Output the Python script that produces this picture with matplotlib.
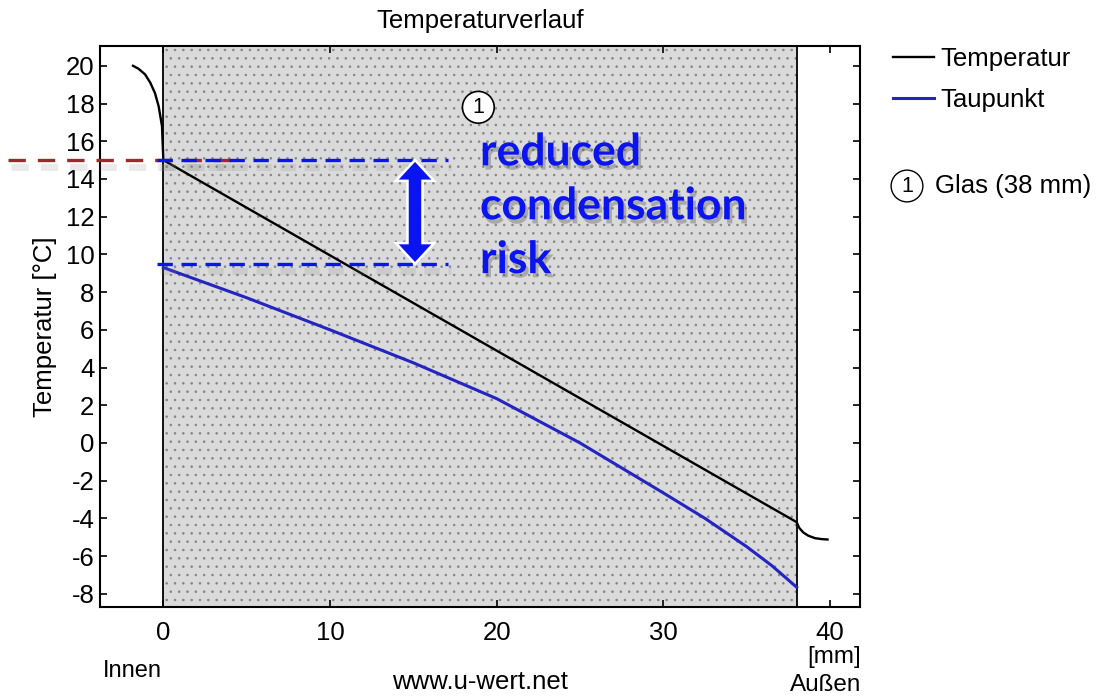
import matplotlib
matplotlib.use("Agg")
import matplotlib.pyplot as plt
import matplotlib.patheffects as pe
from matplotlib.patches import Polygon

# --- data -----------------------------------------------------------------
temp_x = [-1.82, -1.5, -1.1, -0.78, -0.5, -0.28, -0.08, 0.0,
          38.0, 38.15, 38.4, 38.7, 39.1, 39.5, 39.85]
temp_y = [20.0, 19.85, 19.55, 19.1, 18.55, 17.85, 16.8, 15.0,
          -4.2, -4.5, -4.75, -4.92, -5.05, -5.1, -5.12]

dew_x = [0, 5, 10, 15, 20, 25, 30, 32.5, 35, 36.5, 38]
dew_y = [9.3, 7.7, 6.0, 4.25, 2.35, 0.0, -2.65, -4.0, -5.5, -6.5, -7.65]

layer = (0, 38)            # glass pane, mm
layer_name = "Glas (38 mm)"
surface_temp = 15.0        # inner surface temperature
dew_point = 9.5            # dew point at inner surface

xticks = [0, 10, 20, 30, 40]
yticks = list(range(-8, 21, 2))

plt.rcParams["font.family"] = ["Liberation Sans", "DejaVu Sans"]
plt.rcParams["axes.unicode_minus"] = False
plt.rcParams["hatch.linewidth"] = 0.6
FS = 18.5

fig = plt.figure(figsize=(11.19, 6.99), dpi=100)
ax = fig.add_axes([100 / 1119, 1 - 607 / 699, 760 / 1119, 561 / 699])
ax.set_xlim(-3.8, 41.8)
ax.set_ylim(-8.7, 21.05)

# stippled glass layer
ax.axvspan(layer[0], layer[1], facecolor="#dadada", edgecolor="#858585",
           hatch="..", linewidth=0, zorder=0)
ax.axvline(layer[0], color="black", lw=1.3, zorder=2)
ax.axvline(layer[1], color="black", lw=1.3, zorder=2)

l_temp, = ax.plot(temp_x, temp_y, color="black", lw=1.7, label="Temperatur", zorder=3)
l_dew, = ax.plot(dew_x, dew_y, color="#2424c0", lw=2.2, label="Taupunkt", zorder=3)

ax.set_xticks(xticks)
ax.set_yticks(yticks)
ax.tick_params(direction="in", length=5, width=1.2, labelsize=FS,
               top=True, right=True)
ax.tick_params(axis="x", pad=10)
ax.tick_params(axis="y", pad=4)
for s in ax.spines.values():
    s.set_linewidth(1.5)

ax.set_title("Temperaturverlauf", fontsize=FS, pad=13)
ax.set_ylabel("Temperatur [°C]", fontsize=FS, labelpad=6)
ax.set_xlabel("www.u-wert.net", fontsize=FS, labelpad=18)

fig.text(132 / 1119, 1 - 671 / 699, "Innen", fontsize=FS - 1.5, ha="center", va="center")
fig.text(861 / 1119, 1 - 657 / 699, "[mm]", fontsize=FS - 1, ha="right", va="center")
fig.text(861 / 1119, 1 - 685 / 699, "Außen", fontsize=FS - 1, ha="right", va="center")

# layer number in the plot
ax.text(18.9, 17.8, "1", fontsize=FS - 3, ha="center", va="center", zorder=4,
        bbox=dict(boxstyle="circle,pad=0.25", fc="white", ec="black", lw=1.2))

# legend
fig.legend(handles=[l_temp, l_dew], loc="upper left",
           bbox_to_anchor=(893 / 1119, 1 - 47 / 699), frameon=False,
           fontsize=FS, handlelength=1.6, handletextpad=0.25,
           labelspacing=0.68, borderpad=0, borderaxespad=0)
fig.text(907 / 1119, 1 - 186 / 699, "1", fontsize=FS - 3, ha="center", va="center",
         bbox=dict(boxstyle="circle,pad=0.25", fc="white", ec="black", lw=1.0))
fig.text(935 / 1119, 1 - 186 / 699, layer_name, fontsize=FS, ha="left", va="center")

# annotation: reduced condensation risk
shadow = [pe.SimpleLineShadow(offset=(2, -5), shadow_color="#808080", alpha=0.16, linewidth=5),
          pe.Normal()]
ax.plot([-9.3, 4.3], [surface_temp, surface_temp], color="#a0282c", lw=2.4,
        dashes=(5.2, 3.6), clip_on=False, zorder=5, path_effects=shadow)
for yv in (surface_temp, dew_point):
    ax.plot([-0.36, 17.1], [yv, yv], color="#0a14f0", lw=2.4, dashes=(4.6, 2.6),
            zorder=6, path_effects=shadow)

c, top, bot = 15.1, surface_temp, dew_point
s, h, L = 0.45, 1.15, 1.1
arrow = Polygon([(c, top), (c + h, top - L), (c + s, top - L), (c + s, bot + L),
                 (c + h, bot + L), (c, bot), (c - h, bot + L), (c - s, bot + L),
                 (c - s, top - L), (c - h, top - L)],
                closed=True, fc="#0a14f0", ec="white", lw=1.8, zorder=7)
ax.add_patch(arrow)

ax.text(19.0, 12.55, "reduced\ncondensation\nrisk", fontsize=32, fontweight="bold",
        family=["Lato", "DejaVu Sans"], color="#0a14f0", ha="left", va="center",
        linespacing=1.42, zorder=8,
        path_effects=[pe.SimplePatchShadow(offset=(2, -3), shadow_rgbFace="#606060", alpha=0.4),
                      pe.Normal()])

fig.savefig("out.png", dpi=100)
